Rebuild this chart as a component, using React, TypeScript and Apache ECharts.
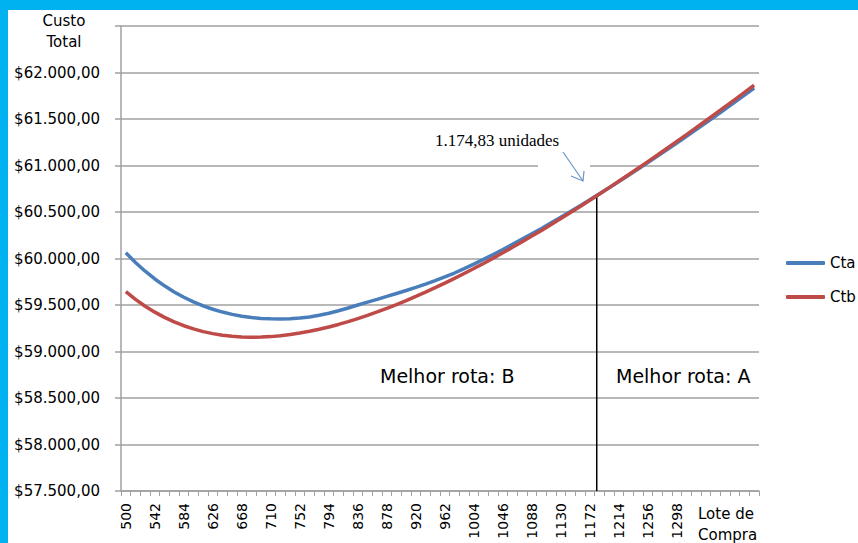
import React, { useEffect, useRef } from "react";
import * as echarts from "echarts";

const lots = [
  "500", "514", "528", "542", "556", "570", "584", "598", "612", "626", "640",
  "654", "668", "682", "696", "710", "724", "738", "752", "766", "780", "794",
  "808", "822", "836", "850", "864", "878", "892", "906", "920", "934", "948",
  "962", "976", "990", "1004", "1018", "1032", "1046", "1060", "1074", "1088",
  "1102", "1116", "1130", "1144", "1158", "1172", "1186", "1200", "1214", "1228",
  "1242", "1256", "1270", "1284", "1298", "1312", "1326", "1340", "1354", "1368",
  "1382", "1396", "1410",
];

const cta = [
  60061, 59957, 59863, 59780, 59706, 59640, 59583, 59533, 59490, 59454, 59424,
  59399, 59380, 59366, 59356, 59351, 59350, 59353, 59360, 59370, 59389, 59411,
  59438, 59468, 59500, 59531, 59561, 59592, 59624, 59656, 59690, 59725, 59763,
  59802, 59844, 59891, 59940, 59991, 60043, 60097, 60152, 60208, 60265, 60323,
  60383, 60443, 60505, 60568, 60631, 60696, 60761, 60827, 60895, 60963, 61031,
  61101, 61171, 61242, 61313, 61386, 61458, 61532, 61606, 61681, 61756, 61832,
];

const ctb = [
  59644, 59561, 59487, 59423, 59367, 59318, 59277, 59243, 59214, 59192, 59175,
  59163, 59156, 59153, 59155, 59160, 59169, 59182, 59198, 59217, 59239, 59263,
  59291, 59321, 59353, 59388, 59425, 59464, 59505, 59547, 59592, 59638, 59686,
  59735, 59786, 59839, 59892, 59947, 60004, 60061, 60120, 60180, 60241, 60302,
  60365, 60429, 60494, 60560, 60626, 60694, 60762, 60831, 60900, 60971, 61042,
  61113, 61186, 61259, 61332, 61407, 61481, 61557, 61633, 61709, 61786, 61863,
];

const lastLabelledLot = "1298";
const crossLot = 1182;
const crossCost = 60665;
const yMin = 57500;
const yMax = 62500;
const yStep = 500;

function money(v: number): string {
  const th = Math.floor(v / 1000);
  const rest = String(v % 1000).padStart(3, "0");
  return "$" + th + "." + rest + ",00";
}

export default function App() {
  const ref = useRef<HTMLDivElement>(null);
  useEffect(() => {
    if (!ref.current) return;
    const chart = echarts.init(ref.current, null, { renderer: "svg" });
    const lastIdx = lots.indexOf(lastLabelledLot);
    const gridColor = "#A0A0A0";
    chart.setOption({
      animation: false,
      backgroundColor: "#ffffff",
      grid: { left: 113, right: 99, top: 16, bottom: 52 },
      legend: {
        data: ["Cta", "Ctb"],
        orient: "vertical",
        left: 778,
        top: 244,
        itemWidth: 39,
        itemHeight: 4,
        itemGap: 16,
        icon: "roundRect",
        padding: 0,
        textStyle: { fontFamily: "DejaVu Sans", fontSize: 15, color: "#000", lineHeight: 18 },
      },
      xAxis: [
        {
          type: "category",
          data: lots,
          boundaryGap: true,
          axisLine: { lineStyle: { color: gridColor, width: 1.5 } },
          axisTick: { show: true, interval: 0, length: 5, inside: false, lineStyle: { color: gridColor, width: 1 } },
          axisLabel: {
            interval: (i: number) => i % 3 === 0 && i <= lastIdx,
            rotate: 90,
            margin: 12,
            fontFamily: "DejaVu Sans",
            fontSize: 14,
            color: "#000",
          },
          splitLine: { show: false },
        },
        {
          type: "value",
          min: 493,
          max: 1417,
          show: false,
          position: "bottom",
        },
      ],
      yAxis: {
        type: "value",
        min: yMin,
        max: yMax,
        interval: yStep,
        axisLine: { show: true, lineStyle: { color: gridColor, width: 1.5 } },
        axisTick: { show: true, length: 6, lineStyle: { color: gridColor, width: 1.5 } },
        axisLabel: {
          margin: 21,
          fontFamily: "DejaVu Sans",
          fontSize: 15,
          color: "#000",
          formatter: (v: number) => (v === yMax ? "" : money(v)),
        },
        splitLine: { show: true, lineStyle: { color: gridColor, width: 1.5 } },
      },
      series: [
        {
          name: "Cta",
          type: "line",
          data: cta,
          symbol: "none",
          lineStyle: { color: "#4A7EBB", width: 3.5 },
          itemStyle: { color: "#4A7EBB" },
        },
        {
          name: "Ctb",
          type: "line",
          data: ctb,
          symbol: "none",
          lineStyle: { color: "#BE4B48", width: 3.5 },
          itemStyle: { color: "#BE4B48" },
        },
        {
          name: "corte",
          type: "line",
          xAxisIndex: 1,
          data: [
            [crossLot, yMin],
            [crossLot, crossCost],
          ],
          symbol: "none",
          z: 1,
          lineStyle: { color: "#000", width: 1.5 },
        },
      ],
      graphic: [
        {
          type: "rect",
          shape: { x: 530, y: 153, width: 52, height: 6 },
          style: { fill: "#fff" },
          z: 5,
        },
        {
          type: "text",
          x: 56,
          y: 0,
          style: {
            text: "Custo\nTotal",
            fontFamily: "DejaVu Sans",
            fontSize: 15,
            lineHeight: 21,
            fill: "#000",
            align: "center",
            verticalAlign: "top",
          },
        },
        {
          type: "text",
          x: 690,
          y: 493,
          style: {
            text: "Lote de\nCompra",
            fontFamily: "DejaVu Sans",
            fontSize: 15,
            lineHeight: 21,
            fill: "#000",
            align: "left",
            verticalAlign: "top",
          },
        },
        {
          type: "text",
          x: 372,
          y: 366,
          style: {
            text: "Melhor rota: B",
            fontFamily: "DejaVu Sans",
            fontSize: 19,
            fill: "#000",
            align: "left",
            verticalAlign: "middle",
          },
        },
        {
          type: "text",
          x: 608,
          y: 366,
          style: {
            text: "Melhor rota: A",
            fontFamily: "DejaVu Sans",
            fontSize: 19,
            fill: "#000",
            align: "left",
            verticalAlign: "middle",
          },
        },
        {
          type: "text",
          x: 427,
          y: 130,
          style: {
            text: "1.174,83 unidades",
            fontFamily: "Liberation Serif",
            fontSize: 17,
            fill: "#000",
            align: "left",
            verticalAlign: "middle",
          },
        },
        {
          type: "polyline",
          shape: { points: [[555, 142], [575, 171]] },
          style: { stroke: "#6A93C8", lineWidth: 1.2, fill: "none" },
          z: 10,
        },
        {
          type: "polyline",
          shape: { points: [[563, 166], [575, 171], [576, 161]] },
          style: { stroke: "#6A93C8", lineWidth: 1.2, fill: "none" },
          z: 10,
        },
      ],
    });
    return () => chart.dispose();
  }, []);
  return (
    <div style={{ position: "fixed", left: 0, top: 0, width: 858, height: 543, background: "#00B2F0" }}>
      <div
        ref={ref}
        style={{ position: "absolute", left: 8, top: 10, width: 850, height: 533, background: "#fff" }}
      />
    </div>
  );
}
